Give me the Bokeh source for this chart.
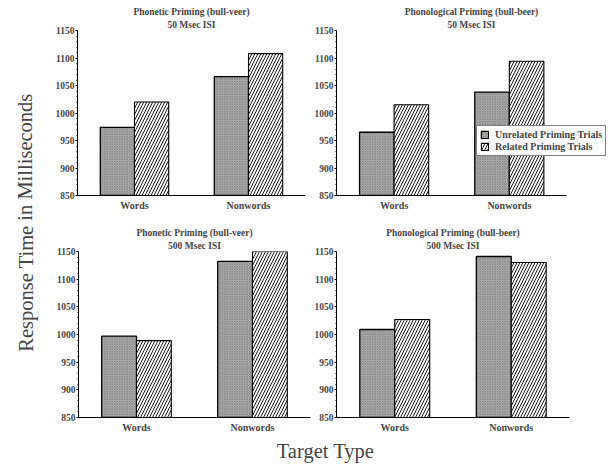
from bokeh.plotting import figure
from bokeh.models import (ColumnDataSource, Range1d, Title, Label, FixedTicker,
                          SingleIntervalTicker, Legend, LegendItem)
from bokeh.transform import dodge
from bokeh.layouts import row, column
from bokeh.embed import file_html
from bokeh.resources import INLINE

categories = ["Words", "Nonwords"]
series_names = ["Unrelated Priming Trials", "Related Priming Trials"]

titles = [
    ("Phonetic Priming (bull-veer)", "50 Msec ISI"),
    ("Phonological Priming (bull-beer)", "50 Msec ISI"),
    ("Phonetic Priming (bull-veer)", "500 Msec ISI"),
    ("Phonological Priming (bull-beer)", "500 Msec ISI"),
]
unrelated_tl = [974, 1066]
related_tl = [1020, 1108]
unrelated_tr = [965, 1038]
related_tr = [1015, 1094]
unrelated_bl = [997, 1132]
related_bl = [989, 1150]
unrelated_br = [1009, 1141]
related_br = [1027, 1130]

y_min, y_max, y_step = 850, 1150, 50
y_axis_title = "Response Time in Milliseconds"
x_axis_title = "Target Type"

SERIF = "Liberation Serif"

# category slots on the x scale: slot i is centred at i + 0.5
cat_pos = [i + 0.5 for i in range(len(categories))]
n_cat = len(categories)


def panel(title_pair, unrel, rel, width, height, bl, br, bt, bb,
          x_end=None, legend=False):
    src = ColumnDataSource(dict(pos=cat_pos, unrelated=unrel, related=rel))
    p = figure(x_range=Range1d(0, x_end if x_end else n_cat),
               y_range=Range1d(y_min, y_max),
               width=width, height=height, output_backend="svg",
               toolbar_location=None, min_border_left=bl, min_border_right=br,
               min_border_top=bt, min_border_bottom=bb)
    p.outline_line_color = None
    p.xgrid.grid_line_color = None
    p.ygrid.grid_line_color = None
    p.add_layout(Title(text=title_pair[1], align="center", text_font=SERIF,
                       text_font_size="9.5px", text_font_style="bold",
                       standoff=2, offset=0), "above")
    p.add_layout(Title(text=title_pair[0], align="center", text_font=SERIF,
                       text_font_size="9.5px", text_font_style="bold",
                       standoff=0, offset=0), "above")
    r1 = p.vbar(x=dodge("pos", -0.15), top="unrelated", bottom=y_min,
                width=0.3, source=src, fill_color="#b2b2b2", line_color="black",
                line_width=1.3, hatch_pattern="x", hatch_scale=2.5,
                hatch_color="#6a6a6a", hatch_weight=0.5)
    r2 = p.vbar(x=dodge("pos", 0.15), top="related", bottom=y_min,
                width=0.3, source=src, fill_color="white", line_color="black",
                line_width=1.1, hatch_pattern="/", hatch_scale=6,
                hatch_color="black", hatch_weight=0.9)
    p.yaxis.ticker = SingleIntervalTicker(interval=y_step, num_minor_ticks=5)
    p.yaxis.major_label_text_font = SERIF
    p.yaxis.major_label_text_font_style = "bold"
    p.yaxis.major_label_text_font_size = "9.5px"
    p.yaxis.major_label_standoff = 1
    p.yaxis.major_tick_in = 0
    p.yaxis.major_tick_out = 2
    p.yaxis.minor_tick_in = 0
    p.yaxis.minor_tick_out = 1
    p.yaxis.axis_line_color = "black"
    p.xaxis.ticker = FixedTicker(ticks=cat_pos)
    p.xaxis.major_label_overrides = {pos: name for pos, name in zip(cat_pos, categories)}
    p.xaxis.minor_tick_line_color = None
    p.xaxis.bounds = (0, n_cat)
    p.xaxis.major_label_text_font = SERIF
    p.xaxis.major_label_text_font_style = "bold"
    p.xaxis.major_label_text_font_size = "10px"
    p.xaxis.major_label_standoff = 4
    p.xaxis.major_tick_in = 0
    p.xaxis.major_tick_out = 0
    p.xaxis.axis_line_color = "black"
    p.xaxis.axis_line_width = 1.2
    if legend:
        lg = Legend(items=[LegendItem(label=series_names[0], renderers=[r1]),
                           LegendItem(label=series_names[1], renderers=[r2])],
                    location=(140, 39), label_text_font=SERIF,
                    label_text_font_style="bold", label_text_font_size="10px",
                    glyph_height=9, glyph_width=9, label_height=10,
                    label_standoff=6, spacing=1, padding=3, margin=0,
                    border_line_color="black", border_line_width=1,
                    background_fill_color="white", background_fill_alpha=1)
        p.add_layout(lg, "center")
    return p


p1 = panel(titles[0], unrelated_tl, related_tl, 263, 225, 29, 6, 30, 30)
p2 = panel(titles[1], unrelated_tr, related_tr, 303, 225, 22, 8, 30, 30,
           x_end=n_cat * 273 / 233, legend=True)
p3 = panel(titles[2], unrelated_bl, related_bl, 263, 211, 30, 1, 24, 19)
p4 = panel(titles[3], unrelated_br, related_br, 303, 211, 24, 45, 24, 19)


def label_fig(width, height):
    f = figure(width=width, height=height, output_backend="svg", toolbar_location=None,
               x_range=Range1d(0, 1), y_range=Range1d(0, 1),
               min_border=0, min_border_left=0, min_border_right=0,
               min_border_top=0, min_border_bottom=0)
    f.axis.visible = False
    f.grid.visible = False
    f.outline_line_color = None
    return f


ylab = label_fig(48, 468)
ylab.add_layout(Label(x=25, y=246, x_units="screen", y_units="screen", text=y_axis_title,
                      angle=1.5708, text_align="center", text_baseline="middle",
                      text_font=SERIF, text_font_size="20.5px"))
xlab = label_fig(566, 32)
xlab.add_layout(Label(x=277, y=18, x_units="screen", y_units="screen", text=x_axis_title,
                      text_align="center", text_baseline="middle",
                      text_font=SERIF, text_font_size="20.5px"))

layout = row(ylab, column(row(p1, p2), row(p3, p4), xlab))

open("out.html", "w").write(file_html(layout, INLINE))
